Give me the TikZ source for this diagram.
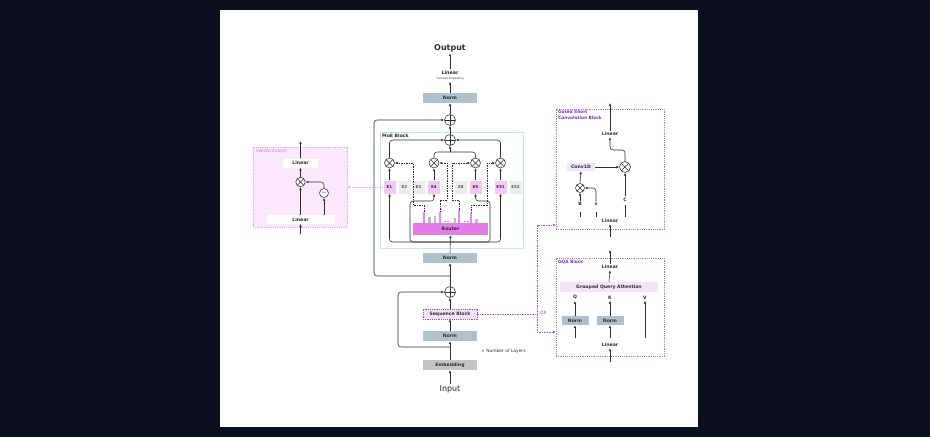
\documentclass[tikz,border=0pt]{standalone}
\usepackage{fontspec}
\setmainfont{DejaVu Sans}
\usetikzlibrary{arrows.meta, calc}

\definecolor{bgdark}{HTML}{0B0F1F}
\definecolor{inkgray}{HTML}{2E2E2E}
\definecolor{normblue}{HTML}{AFC1CE}
\definecolor{embgray}{HTML}{C4C4C4}
\definecolor{seqlilac}{HTML}{F3E6FA}
\definecolor{blockpurple}{HTML}{A57DD6}
\definecolor{orpurple}{HTML}{9A55D2}
\definecolor{labelpurple}{HTML}{7A2EC8}
\definecolor{routerpink}{HTML}{E27DE8}
\definecolor{expertpink}{HTML}{F4C8F4}
\definecolor{barpink}{HTML}{E58AE8}
\definecolor{bargray}{HTML}{BDBDBD}
\definecolor{expertgray}{HTML}{EDEDED}
\definecolor{moecyan}{HTML}{C6E6EA}
\definecolor{swifill}{HTML}{FCE8FC}
\definecolor{swiedge}{HTML}{EBA6EB}
\definecolor{swilabel}{HTML}{E070E0}
\definecolor{convlilac}{HTML}{EFE6FB}

\begin{document}
\begin{tikzpicture}[x=1pt, y=-1pt,
    every node/.style={inner sep=0pt, text=inkgray, font=\fontsize{4.6}{5.5}\selectfont},
    lbl/.style={font=\fontsize{4.6}{5.5}\selectfont\bfseries},
    txt/.style={lbl, outer sep=1.5pt},
    box/.style={lbl, minimum width=54, minimum height=10},
    normbox/.style={box, fill=normblue},
    whitebox/.style={lbl, fill=white, minimum height=9},
    lilacbox/.style={lbl, fill=convlilac, minimum height=8},
    blockbox/.style={draw=blockpurple, line width=0.5pt, dash pattern=on 1.2pt off 1pt,
        minimum width=108, minimum height=120},
    tag/.style={lbl, font=\fontsize{4.3}{5.2}\selectfont\bfseries, text=labelpurple,
        anchor=north west, align=left},
    epick/.style={font=\fontsize{4}{5}\selectfont\bfseries, fill=expertpink, text=black!80,
        minimum width=12, minimum height=13},
    eidle/.style={epick, fill=expertgray, text=black!65},
    addop/.style={circle, draw=inkgray, fill=white, line width=0.55pt, minimum size=11,
        path picture={\draw[inkgray, line width=0.55pt]
            (path picture bounding box.north) -- (path picture bounding box.south)
            (path picture bounding box.west) -- (path picture bounding box.east);}},
    mulop/.style={circle, draw=inkgray, fill=white, line width=0.55pt, minimum size=10,
        path picture={\draw[inkgray, line width=0.55pt]
            (path picture bounding box.north west) -- (path picture bounding box.south east)
            (path picture bounding box.north east) -- (path picture bounding box.south west);}},
    line/.style={draw=inkgray, line width=0.55pt, rounded corners=3pt},
    conn/.style={line, -{Latex[length=2.9pt, width=2.5pt]}},
    gate/.style={conn, dash pattern=on 1.5pt off 1pt, rounded corners=0pt},
    orline/.style={draw=orpurple, line width=0.6pt, dash pattern=on 1.5pt off 1pt}]

    % canvas
    \useasboundingbox (0,0) rectangle (930,437);
    \fill[bgdark] (0,0) rectangle (930,437);
    \fill[white] (220,10) rectangle (698,427);

    % block frames
    \node[draw=moecyan, line width=0.6pt, minimum width=143, minimum height=116] (moe) at (451.5,190) {};
    \node[lbl, anchor=west] at (382,136) {MoE Block};
    \node[draw=swiedge, fill=swifill, line width=0.5pt, dash pattern=on 1.2pt off 1pt,
        minimum width=94, minimum height=80] (swi) at (300,187) {};
    \node[text=swilabel, anchor=north west, font=\fontsize{4.3}{5}\selectfont] at (256,149.5) {SwiGlu Expert};
    \node[blockbox] (gsc) at (610,169) {};
    \node[tag] at (558,110.5) {Gated Short\\Convolution Block};
    \node[blockbox, minimum height=98] (gqa) at (610,307) {};
    \node[tag] at (558,260) {GQA Block};

    % main column
    \node[txt, font=\fontsize{8}{9}\selectfont\bfseries] (out) at (450,48) {Output};
    \node[txt, font=\fontsize{4.8}{5.5}\selectfont\bfseries] (lin) at (450,72.5) {Linear};
    \node[outer sep=1.5pt, font=\fontsize{2.6}{3}\selectfont] (tied) at (450,79) {Tied with Embedding};
    \node[normbox] (normtop) at (450,98) {Norm};
    \node[addop] (add1) at (450,120) {};
    \node[addop] (add3) at (450,140) {};
    \node[normbox] (normmoe) at (450,258) {Norm};
    \node[addop] (add2) at (450,292) {};
    \node[box, fill=seqlilac, draw=orpurple, line width=0.5pt, dash pattern=on 1.2pt off 1pt] (seq) at (450,314) {Sequence Block};
    \node[normbox] (norm2) at (450,336) {Norm};
    \node[box, fill=embgray] (emb) at (450,365) {Embedding};
    \node[txt, font=\fontsize{8}{9}\selectfont] (in) at (450,389) {Input};
    \node[anchor=west, font=\fontsize{4.4}{5}\selectfont] (layers) at (481,351) {× Number of Layers};

    \coordinate (skipA) at (450,276);
    \coordinate (skipAc) at (374,120);
    \coordinate (skipB) at (450,347);
    \coordinate (skipBc) at (398,292);

    \draw[conn] (in.north) -- (emb.south);
    \draw[conn] (emb.north) -- (norm2.south);
    \draw[conn] (norm2.north) -- (seq.south);
    \draw[conn] (seq.north) -- (add2.south);
    \draw[conn] (add2.north) -- (normmoe.south);
    \draw[conn] (skipB) -| (skipBc) -- (add2.west);
    \draw[conn] (skipA) -| (skipAc) -- (add1.west);
    \draw[conn] (add3.north) -- (add1.south);
    \draw[conn] (add1.north) -- (normtop.south);
    \draw[conn] (normtop.north) -- (tied.south);
    \draw[conn] (lin.north) -- (out.south);

    % MoE: router and experts
    \node[lbl, fill=routerpink, minimum width=75, minimum height=12] (router) at (450.5,229) {Router};
    \foreach \bx/\bh/\bc in {424/11.5/barpink, 429.3/5.7/bargray, 435/7.3/bargray, 440/10.7/barpink,
        455/5/bargray, 459/13.3/barpink, 471/10/barpink, 476.7/4/bargray}
        \fill[\bc] (\bx-1.4,223) rectangle (\bx+1.4,223-\bh);
    \foreach \dx in {445,448,465,468}
        \fill[black!70] (\dx,221.5) circle (0.55);

    \node[epick] (e1) at (389.5,187) {E1};
    \node[eidle] (e2) at (404.5,187) {E2};
    \node[eidle] (e3) at (418.5,187) {E3};
    \node[epick] (e4) at (434,187) {E4};
    \node[eidle] (e8) at (461,187) {E8};
    \node[epick] (e9) at (475.5,187) {E9};
    \node[epick] (e31) at (500.5,187) {E31};
    \node[eidle] (e32) at (515.5,187) {E32};
    \foreach \dx in {442.5,445,484.5,489.5}
        \fill[black!60] (\dx,187) circle (0.45);

    \node[mulop] (m1) at (389.5,163) {};
    \node[mulop] (m2) at (434,163) {};
    \node[mulop] (m3) at (475.5,163) {};
    \node[mulop] (m4) at (500.5,163) {};

    \coordinate (moein) at (450,242);
    \coordinate (frL) at (410,201);
    \coordinate (frR) at (490,201);
    \coordinate (mj) at (450,152);

    \draw[conn] (normmoe.north) -- (router.south);
    \draw[conn] (moein) -| (e1.south);
    \draw[conn] (moein) -| (e31.south);
    \draw[conn] (moein) -| (frL) -| (e4.south);
    \draw[conn] (moein) -| (frR) -| (e9.south);

    \draw[conn] (e1.north) -- (m1.south);
    \draw[conn] (e4.north) -- (m2.south);
    \draw[conn] (e9.north) -- (m3.south);
    \draw[conn] (e31.north) -- (m4.south);
    \draw[conn] (m1.north) |- (add3.west);
    \draw[conn] (m4.north) |- (add3.east);
    \draw[line] (m2.north) |- (mj);
    \draw[line] (m3.north) |- (mj);
    \draw[conn] (mj) -- (add3.south);

    % gate weights
    \coordinate (g1) at (424,211.5);  \coordinate (g1b) at (413,205);
    \coordinate (g2) at (440,212.3);  \coordinate (g2b) at (447,200);
    \coordinate (g3) at (459,209.7);  \coordinate (g3b) at (452,200);
    \coordinate (g4) at (471,213);    \coordinate (g4b) at (487,205);
    \draw[gate] (g1) |- (g1b) |- (m1.east);
    \draw[gate] (g2) |- (g2b) |- (m2.east);
    \draw[gate] (g3) |- (g3b) |- (m3.west);
    \draw[gate] (g4) |- (g4b) |- (m4.west);

    % link to expert detail
    \draw[conn, draw=swiedge, dash pattern=on 1.5pt off 1pt] (e1.west) -- (e1.west -| swi.east);

    % SwiGlu expert
    \node[whitebox, minimum width=35] (swtop) at (300.5,163) {Linear};
    \node[whitebox, minimum width=68, minimum height=8.5] (swbot) at (300.5,219.5) {Linear};
    \node[mulop, minimum size=9.5] (swmul) at (300.5,182) {};
    \node[circle, draw=inkgray, fill=white, line width=0.55pt, minimum size=9,
        font=\fontsize{2.2}{3}\selectfont] (silu) at (324,193) {SiLU};
    \coordinate (swin) at (300.5,234);
    \coordinate (swout) at (300.5,141);
    \draw[conn] (swin) -- (swbot.south);
    \draw[conn] (swbot.north -| swmul) -- (swmul.south);
    \draw[conn] (swbot.north -| silu) -- (silu.south);
    \draw[conn] (silu.north) |- (swmul.east);
    \draw[conn] (swmul.north) -- (swtop.south);
    \draw[conn] (swtop.north) -- (swout);

    % gated short convolution
    \node[txt] (gtop) at (610,134) {Linear};
    \node[txt] (gbot) at (610,221) {Linear};
    \node[mulop, minimum size=11] (gmul) at (625,167) {};
    \node[lilacbox, minimum width=28] (conv) at (581,167) {Conv1D};
    \node[mulop, minimum size=9] (gmulb) at (580,188) {};
    \node[txt] (lb) at (580,204) {B};
    \node[txt] (lx) at (596,204.5) {x};
    \node[txt] (lc) at (625,199.7) {C};
    \coordinate (gin) at (610,237);
    \coordinate (gout) at (610,103);
    \coordinate (gbend) at (610,150);
    \coordinate (bfoot) at (580,217);  \coordinate (btop) at (580,212);
    \coordinate (xfoot) at (596,217);  \coordinate (xtop) at (596,212);
    \coordinate (cfoot) at (625,217);  \coordinate (ctop) at (625,205);

    \draw[conn] (gin) -- (gbot.south);
    \draw[line] (bfoot) -- (btop);
    \draw[line] (xfoot) -- (xtop);
    \draw[line] (cfoot) -- (ctop);
    \draw[conn] (lb.north) -- (gmulb.south);
    \draw[conn] (lx.north) |- (gmulb.east);
    \draw[conn] (lc.north) -- (gmul.south);
    \draw[conn] (gmulb.north) -- (conv.south);
    \draw[conn] (conv.east) -- (gmul.west);
    \draw[conn] (gmul.north) |- (gbend) -- (gtop.south);
    \draw[conn] (gtop.north) -- (gout);

    % grouped query attention
    \node[txt] (qtop) at (610,267) {Linear};
    \node[lilacbox, minimum width=98, minimum height=10] (att) at (609,287) {Grouped Query Attention};
    \node[txt] (lq) at (575,297.5) {Q};
    \node[txt] (lk) at (610,297.5) {K};
    \node[txt] (lv) at (645,297.5) {V};
    \node[normbox, minimum width=27, minimum height=9] (nq) at (575,320.5) {Norm};
    \node[normbox, minimum width=27, minimum height=9] (nk) at (610,320.5) {Norm};
    \node[txt] (qbot) at (610,345) {Linear};
    \coordinate (qin) at (610,362);
    \coordinate (qout) at (610,250);
    \coordinate (qf) at (575,338);
    \coordinate (kf) at (610,338);
    \coordinate (vf) at (645,338);

    \draw[conn] (qin) -- (qbot.south);
    \draw[conn] (qf) -- (nq.south);
    \draw[conn] (kf) -- (nk.south);
    \draw[conn] (vf) -- (lv.south);
    \draw[conn] (nq.north) -- (lq.south);
    \draw[conn] (nk.north) -- (lk.south);
    \draw[conn] (att.north) -- (qtop.south);
    \draw[conn] (qtop.north) -- (qout);

    % sequence block choices
    \coordinate (orj) at (537,314);
    \coordinate (gscin) at (556,225);
    \coordinate (gqain) at (556,332);
    \draw[orline] (seq.east) -- (orj);
    \draw[orline, -{Latex[length=2.9pt, width=2.5pt]}] (orj) |- (gscin);
    \draw[orline, -{Latex[length=2.9pt, width=2.5pt]}] (orj) |- (gqain);
    \node[text=orpurple, anchor=west, font=\fontsize{4.4}{5}\selectfont] (orlbl) at (540,313) {OR};

\end{tikzpicture}
\end{document}
